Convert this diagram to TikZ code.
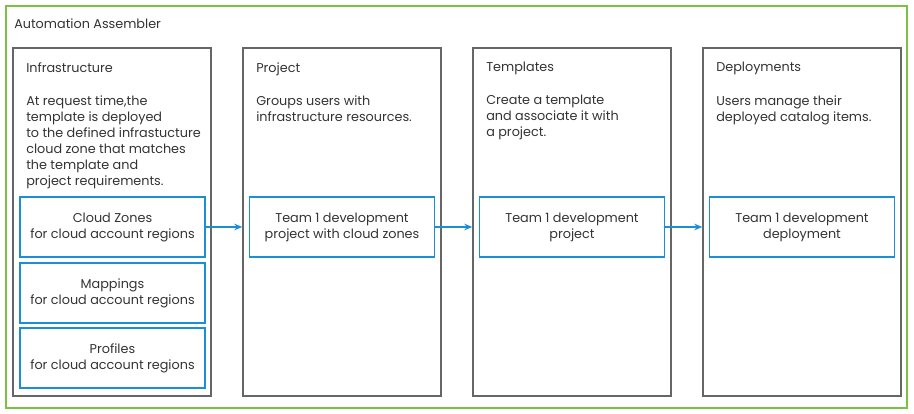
\documentclass[tikz,border=0pt]{standalone}
\usepackage{fontspec}
\setmainfont{Poppins}
\usetikzlibrary{arrows.meta,positioning}
\definecolor{vgreen}{HTML}{7CC242}
\definecolor{vblue}{HTML}{1A8FD8}
\definecolor{vgray}{HTML}{666666}
\definecolor{vtext}{HTML}{333333}

\begin{document}
\begin{tikzpicture}[x=0.75pt,y=-0.75pt,
  col/.style={draw=vgray,line width=1.1pt,minimum width=148.5pt,minimum height=261pt,inner sep=0pt},
  item/.style={draw=vblue,line width=1pt,minimum width=138.75pt,minimum height=45pt,align=center,text=vtext,inner sep=0pt,font=\fontsize{9.6}{12}\selectfont},
  lbl/.style={anchor=north west,align=left,inner sep=0pt,text=vtext,font=\fontsize{9.6}{12}\selectfont},
  flow/.style={draw=vblue,line width=0.9pt,-{Stealth[length=6pt,width=5pt]}}]
\useasboundingbox (0,0) rectangle (914,414);
\draw[vgreen,line width=1.1pt] (6,6) rectangle (907,408);
\node[lbl] (aa) at (14,18) {Automation Assembler};
% columns
\node[col] (infra) at (112,222) {};
\node[col] (proj) at (342,222) {};
\node[col] (tmpl) at (572,222) {};
\node[col] (depl) at (802,222) {};
\node[lbl] (infrat) at (26,62) {Infrastructure};
\node[lbl] (projt) at (256,62) {Project};
\node[lbl] (tmplt) at (486,62) {Templates};
\node[lbl] (deplt) at (716,62) {Deployments};
\node[lbl] (infrad) at (26,95) {At request time,the\\template is deployed\\to the defined infrastucture\\cloud zone that matches\\the template and\\project requirements.};
\node[lbl] (projd) at (256,95) {Groups users with\\infrastructure resources.};
\node[lbl] (tmpld) at (486,95) {Create a template\\and associate it with\\a project.};
\node[lbl] (depld) at (716,95) {Users manage their\\deployed catalog items.};
% inner boxes
\node[item] (zones) at (112.5,227) {Cloud Zones\\for cloud account regions};
\node[item] (maps) at (112.5,293) {Mappings\\for cloud account regions};
\node[item] (profs) at (112.5,358) {Profiles\\for cloud account regions};
\node[item] (team1) at (342,227) {Team 1 development\\project with cloud zones};
\node[item] (team2) at (572,227) {Team 1 development\\project};
\node[item] (team3) at (802,227) {Team 1 development\\deployment};
% arrows
\draw[flow] (zones.east) -- (zones.east -| proj.west);
\draw[flow] (team1.east) -- (team1.east -| tmpl.west);
\draw[flow] (team2.east) -- (team2.east -| depl.west);
\end{tikzpicture}
\end{document}
